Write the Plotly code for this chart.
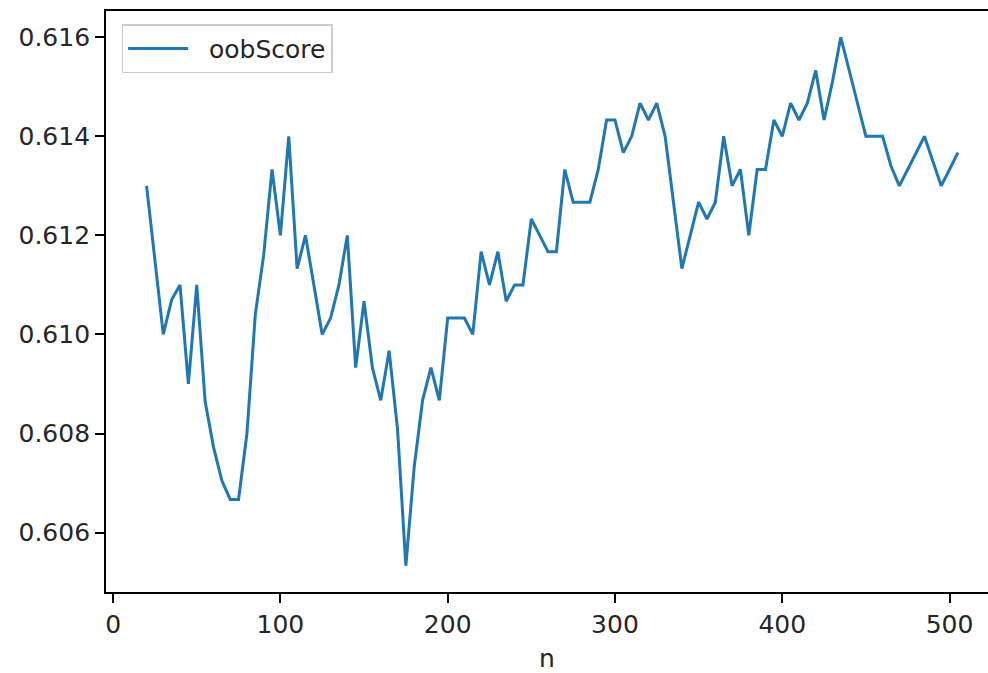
import plotly.graph_objects as go

n_values = list(range(20, 510, 5))
oob_score = [
    0.61300, 0.61150, 0.61000, 0.61070, 0.61100, 0.60900, 0.61100, 0.60865, 0.60773, 0.60705,
    0.60667, 0.60667, 0.60800, 0.61040, 0.61160, 0.61333, 0.61200, 0.61400, 0.61133, 0.61200,
    0.61100, 0.61000, 0.61033, 0.61100, 0.61200, 0.60933, 0.61067, 0.60933, 0.60867, 0.60967,
    0.60810, 0.60533, 0.60733, 0.60867, 0.60933, 0.60867, 0.61033, 0.61033, 0.61033, 0.61000,
    0.61167, 0.61100, 0.61167, 0.61067, 0.61100, 0.61100, 0.61233, 0.61200, 0.61167, 0.61167,
    0.61333, 0.61267, 0.61267, 0.61267, 0.61333, 0.61433, 0.61433, 0.61367, 0.61400, 0.61467,
    0.61433, 0.61467, 0.61400, 0.61270, 0.61133, 0.61200, 0.61267, 0.61233, 0.61267, 0.61400,
    0.61300, 0.61333, 0.61200, 0.61333, 0.61333, 0.61433, 0.61400, 0.61467, 0.61433, 0.61467,
    0.61533, 0.61433, 0.61510, 0.61600, 0.61533, 0.61467, 0.61400, 0.61400, 0.61400, 0.61340,
    0.61300, 0.61333, 0.61367, 0.61400, 0.61350, 0.61300, 0.61333, 0.61367,
]
x_ticks = [0, 100, 200, 300, 400, 500]
y_ticks = [0.606, 0.608, 0.610, 0.612, 0.614, 0.616]
series_name = "oobScore"

font = "DejaVu Sans"
text_color = "#262626"
fig = go.Figure()
fig.add_trace(go.Scatter(
    x=n_values, y=oob_score, mode="lines", name="\u00a0\u00a0" + series_name,
    line=dict(color="#1f77b4", width=3),
))

fig.update_layout(
    width=988, height=673,
    margin=dict(l=106, r=0, t=11, b=81, autoexpand=False),
    paper_bgcolor="white", plot_bgcolor="white",
    font=dict(family=font, size=25, color=text_color),
    showlegend=True,
    legend=dict(
        x=0.0177, y=0.977, xanchor="left", yanchor="top",
        bgcolor="white", bordercolor="#cccccc", borderwidth=1.5,
        font=dict(family=font, size=25, color=text_color),
        itemwidth=60, tracegroupgap=0,
    ),
)
fig.update_xaxes(
    range=[-4.25, 523.0], tickvals=x_ticks, ticktext=[str(v) for v in x_ticks],
    showgrid=False, zeroline=False,
    showline=True, linecolor="black", linewidth=1.8, mirror=True,
    ticks="outside", ticklen=9, tickwidth=1.8, tickcolor="black",
    tickfont=dict(family=font, size=25, color=text_color),
    title=dict(text="n", font=dict(family=font, size=25, color=text_color), standoff=14),
)
fig.update_yaxes(
    range=[0.6048, 0.61653], tickvals=y_ticks, ticktext=[f"{v:.3f}" for v in y_ticks],
    showgrid=False, zeroline=False,
    showline=True, linecolor="black", linewidth=1.8, mirror=False,
    ticks="outside", ticklen=9, tickwidth=1.8, tickcolor="black",
    tickfont=dict(family=font, size=25, color=text_color),
)

fig.write_html(
    "out.html",
    config={"displayModeBar": False},
    post_script="document.body.style.margin='0';document.body.style.overflow='hidden';",
)
